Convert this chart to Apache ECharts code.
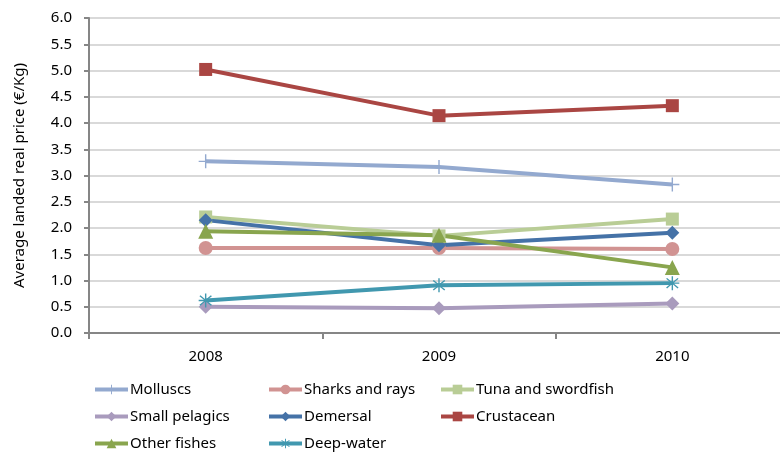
<!DOCTYPE html>
<html>
<head>
<meta charset="utf-8">
<title>Average landed real price</title>
<script src="https://cdn.jsdelivr.net/npm/echarts@6/dist/echarts.min.js"></script>
<style>
    html, body { margin: 0; padding: 0; background: #fff; }
    #container { width: 780px; height: 454px; }
</style>
</head>
<body>
<div id="container"></div>
<script type="text/javascript">
    var years = ['2008', '2009', '2010'];

    var molluscs      = [3.27, 3.16, 2.83];
    var sharksRays    = [1.62, 1.62, 1.60];
    var tunaSwordfish = [2.21, 1.85, 2.17];
    var smallPelagics = [0.50, 0.47, 0.56];
    var demersal      = [2.15, 1.67, 1.91];
    var crustacean    = [5.02, 4.14, 4.33];
    var otherFishes   = [1.94, 1.86, 1.25];
    var deepWater     = [0.62, 0.91, 0.95];

    var yTicks = ['0.0', '0.5', '1.0', '1.5', '2.0', '2.5', '3.0', '3.5', '4.0', '4.5', '5.0', '5.5', '6.0'];

    var FONT = 'Noto Sans';
    var crossPath = 'path://M9,0 L11,0 L11,9 L20,9 L20,11 L11,11 L11,20 L9,20 L9,11 L0,11 L0,9 L9,9 Z';
    var starPath = 'path://M9,0 L11,0 L11,8 L17.5,2.5 L18.9,3.9 L12.5,9 L20,9 L20,11 L12.5,11 L18.9,16.1 L17.5,17.5 L11,12 L11,20 L9,20 L9,12 L2.5,17.5 L1.1,16.1 L7.5,11 L0,11 L0,9 L7.5,9 L1.1,3.9 L2.5,2.5 L9,8 Z';

    function mkSeries(name, data, color, symbol, size) {
        return {
            name: name,
            type: 'line',
            data: data,
            symbol: symbol,
            symbolSize: size,
            color: color,
            lineStyle: { width: 4, color: color },
            itemStyle: { color: color },
            emphasis: { disabled: true },
            animation: false
        };
    }

    var dom = document.getElementById('container');
    var myChart = echarts.init(dom);

    var legendText = { fontFamily: FONT, fontSize: 15, color: '#000', padding: [0, 0, 0, -3] };
    function mkLegend(x, names) {
        return {
            orient: 'vertical', left: x, top: 382, itemGap: 12,
            padding: 0,
            itemWidth: 33, itemHeight: 12, textStyle: legendText,
            lineStyle: { width: 4 },
            itemStyle: { borderWidth: 0 },
            data: names
        };
    }

    var option = {
        grid: {
            left: 89,
            top: 18,
            width: 700,
            height: 315,
            outerBoundsMode: 'none',
            containLabel: false
        },
        legend: [
            mkLegend(93, ['Molluscs', 'Small pelagics', 'Other fishes']),
            mkLegend(267, ['Sharks and rays', 'Demersal', 'Deep-water']),
            mkLegend(439, ['Tuna and swordfish', 'Crustacean'])
        ],
        xAxis: {
            type: 'category',
            data: years,
            boundaryGap: true,
            axisLine: { lineStyle: { color: '#868686', width: 2 } },
            axisTick: { show: true, length: 6, lineStyle: { color: '#868686', width: 2 } },
            axisLabel: { fontFamily: FONT, fontSize: 15, color: '#000', margin: 16 }
        },
        yAxis: {
            type: 'value',
            min: 0,
            max: 6,
            interval: 0.5,
            name: 'Average landed real price (€/Kg)',
            nameLocation: 'middle',
            nameGap: 62,
            nameTextStyle: { fontFamily: FONT, fontSize: 15, color: '#000' },
            axisLine: { show: true, lineStyle: { color: '#868686', width: 2 } },
            axisTick: { show: true, length: 5, lineStyle: { color: '#868686', width: 2 } },
            axisLabel: {
                fontFamily: FONT, fontSize: 15, color: '#000', margin: 17,
                formatter: function (v) { return yTicks[Math.round(v * 2)]; }
            },
            splitLine: { lineStyle: { color: '#D9D9D9', width: 2 } }
        },
        series: [
            mkSeries('Molluscs', molluscs, '#93A9CF', crossPath, 14),
            mkSeries('Sharks and rays', sharksRays, '#D19392', 'circle', 14),
            mkSeries('Tuna and swordfish', tunaSwordfish, '#B9CD96', 'rect', 13),
            mkSeries('Small pelagics', smallPelagics, '#A99BBD', 'diamond', 14),
            mkSeries('Demersal', demersal, '#4572A7', 'diamond', 14),
            mkSeries('Crustacean', crustacean, '#AA4643', 'rect', 13),
            mkSeries('Other fishes', otherFishes, '#89A54E', 'triangle', 15),
            mkSeries('Deep-water', deepWater, '#4198AF', starPath, 14)
        ]
    };

    myChart.setOption(option);
</script>
</body>
</html>
